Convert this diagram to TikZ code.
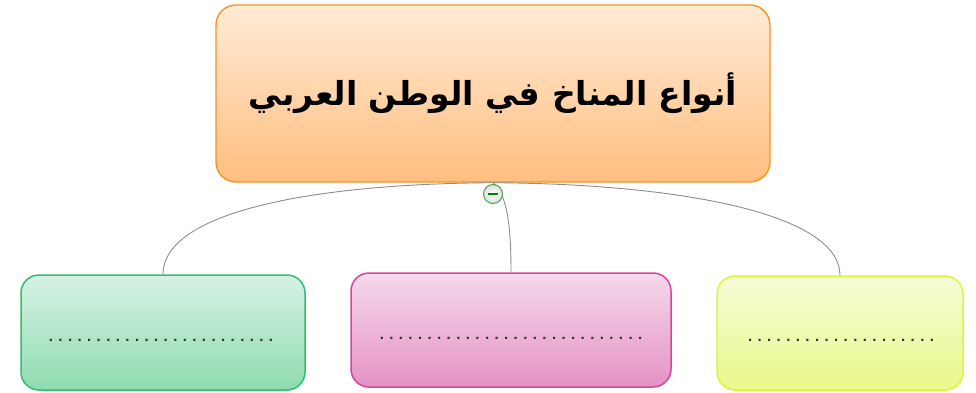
\documentclass[tikz,border=0pt]{standalone}
\usepackage{fontspec}
\TeXXeTstate=1
\newfontfamily\arabicfont[Script=Arabic]{DejaVu Sans}
\newfontfamily\dotfont[LetterSpace=36]{Liberation Sans}
\definecolor{orgtop}{HTML}{FFEBD6}
\definecolor{orgbot}{HTML}{FFBE7E}
\definecolor{orgline}{HTML}{F7941D}
\definecolor{grntop}{HTML}{D6F2E3}
\definecolor{grnbot}{HTML}{8FDBB0}
\definecolor{grnline}{HTML}{2EBF6E}
\definecolor{pnktop}{HTML}{F5D9EC}
\definecolor{pnkbot}{HTML}{E592C4}
\definecolor{pnkline}{HTML}{D6449E}
\definecolor{ylwtop}{HTML}{F6FBD6}
\definecolor{ylwbot}{HTML}{E9F88A}
\definecolor{ylwline}{HTML}{DDF53A}
\definecolor{conn}{HTML}{8C8C8C}
\tikzset{
  topic/.style={draw=orgline, line width=1.4pt, rounded corners=20pt, top color=orgtop, bottom color=orgbot, minimum width=554pt, minimum height=177pt, inner sep=0pt},
  sub/.style={line width=1.5pt, rounded corners=18pt, inner sep=0pt},
  dotline/.style={inner sep=0pt, font=\fontsize{15}{16}\selectfont\bfseries\dotfont, text=black!80},
  link/.style={draw=conn, line width=0.9pt},
}
\begin{document}
\begin{tikzpicture}[x=1pt,y=-1pt]
\useasboundingbox (0,0) rectangle (976,393);
\node[topic] (main) at (493,93.5) {\fontsize{33}{40}\selectfont\bfseries\arabicfont\beginR أنواع المناخ في الوطن العربي\endR};
\node[sub, draw=grnline, top color=grntop, bottom color=grnbot, minimum width=284pt, minimum height=115pt] (g) at (163,332.5) {};
\node[sub, draw=pnkline, top color=pnktop, bottom color=pnkbot, minimum width=320pt, minimum height=114pt] (p) at (511,330) {};
\node[sub, draw=ylwline, top color=ylwtop, bottom color=ylwbot, minimum width=246pt, minimum height=114pt] (y) at (840,333) {};
\node[dotline] (gt) at (161,340) {........................};
\node[dotline] (pt) at (511,338) {............................};
\node[dotline] (yt) at (841,340) {....................};
\draw[link] (main.south) .. controls (300,184) and (163,215) .. (g.north);
\draw[link] (main.south) .. controls (686,184) and (840,215) .. (y.north);
\draw[link] (main.south) .. controls (508,195) and (511,230) .. (p.north);
\node[circle, draw=green!55!black!75, inner color=white, outer color=gray!25, line width=1pt, minimum size=19pt, inner sep=0pt] (minus) at (493,194) {};
\draw[green!50!black, line width=1.3pt] ([xshift=-5pt]minus.center) -- ([xshift=5pt]minus.center);
\end{tikzpicture}
\end{document}
